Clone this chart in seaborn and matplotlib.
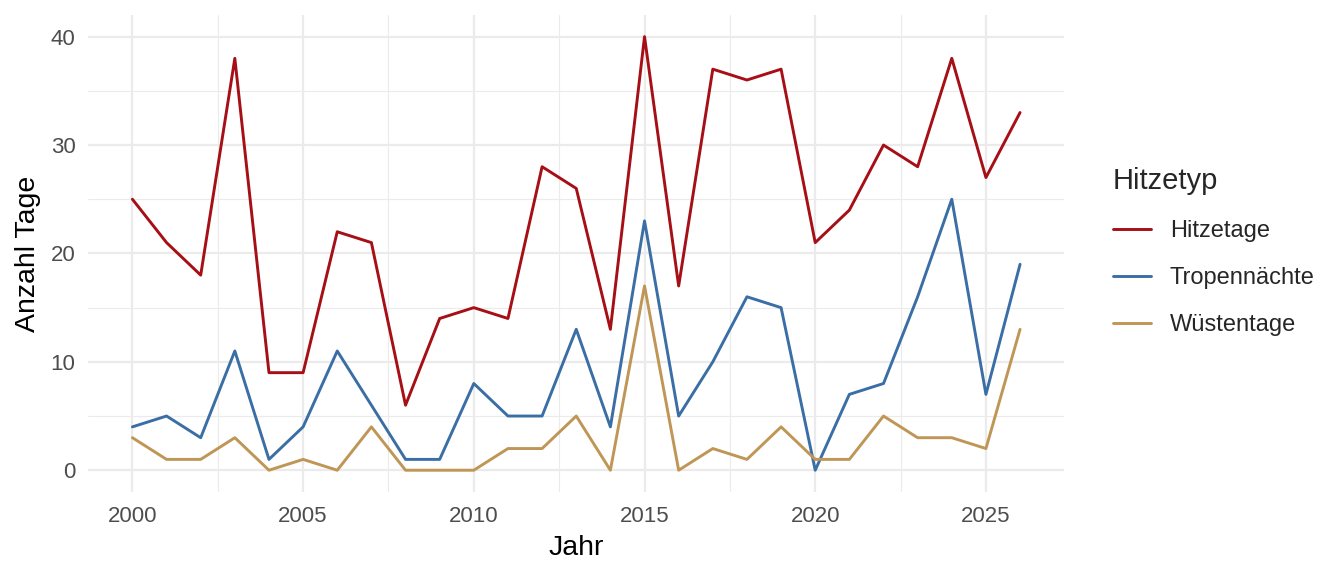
import numpy as np
import pandas as pd
import matplotlib
matplotlib.use("Agg")
import matplotlib.pyplot as plt
from matplotlib.ticker import MultipleLocator
import seaborn as sns

years = list(range(2000, 2027))
hitzetage = [25, 21, 18, 38, 9, 9, 22, 21, 6, 14, 15, 14, 28, 26, 13, 40, 17, 37, 36, 37, 21, 24, 30, 28, 38, 27, 33]
tropennaechte = [4, 5, 3, 11, 1, 4, 11, 6, 1, 1, 8, 5, 5, 13, 4, 23, 5, 10, 16, 15, 0, 7, 8, 16, 25, 7, 19]
wuestentage = [3, 1, 1, 3, 0, 1, 0, 4, 0, 0, 0, 2, 2, 5, 0, 17, 0, 2, 1, 4, 1, 1, 5, 3, 3, 2, 13]
series_names = ["Hitzetage", "Tropennächte", "Wüstentage"]
colors = ["#A50F15", "#3A6EA5", "#BF9655"]

df = pd.DataFrame({
    "Jahr": years * 3,
    "Anzahl Tage": hitzetage + tropennaechte + wuestentage,
    "Hitzetyp": [series_names[0]] * len(years) + [series_names[1]] * len(years) + [series_names[2]] * len(years),
})

sns.set_theme(style="white")
plt.rcParams["font.family"] = ["Liberation Sans", "DejaVu Sans"]

fig = plt.figure(figsize=(13.44, 5.76), dpi=100)
ax = fig.add_axes([0.0655, 0.146, 0.7265, 0.828])

sns.lineplot(data=df, x="Jahr", y="Anzahl Tage", hue="Hitzetyp",
             palette=dict(zip(series_names, colors)), hue_order=series_names,
             linewidth=2.1, ax=ax)

ax.set_xlim(1998.7, 2027.3)
ax.set_ylim(-2, 42)
ax.xaxis.set_major_locator(MultipleLocator(5))
ax.xaxis.set_minor_locator(MultipleLocator(2.5))
ax.yaxis.set_major_locator(MultipleLocator(10))
ax.yaxis.set_minor_locator(MultipleLocator(5))
ax.grid(which="major", color="#EBEBEB", linewidth=1.6)
ax.grid(which="minor", color="#EBEBEB", linewidth=0.8)
ax.set_axisbelow(True)
for s in ax.spines.values():
    s.set_visible(False)
ax.tick_params(which="both", length=0, labelsize=16, labelcolor="#4D4D4D")
ax.tick_params(axis="x", pad=10)
ax.tick_params(axis="y", pad=9)
ax.set_xlabel("Jahr", fontsize=20.5, color="black", labelpad=6)
ax.set_ylabel("Anzahl Tage", fontsize=20.5, color="black", labelpad=7)

leg = ax.legend(title="Hitzetyp", loc="upper left", bbox_to_anchor=(1.028, 0.725),
                frameon=False, fontsize=17, title_fontsize=21,
                handlelength=1.6, handletextpad=0.8, labelspacing=1.06)
leg._legend_box.align = "left"
for line in leg.get_lines():
    line.set_linewidth(2.1)

fig.savefig("out.png", dpi=100)
